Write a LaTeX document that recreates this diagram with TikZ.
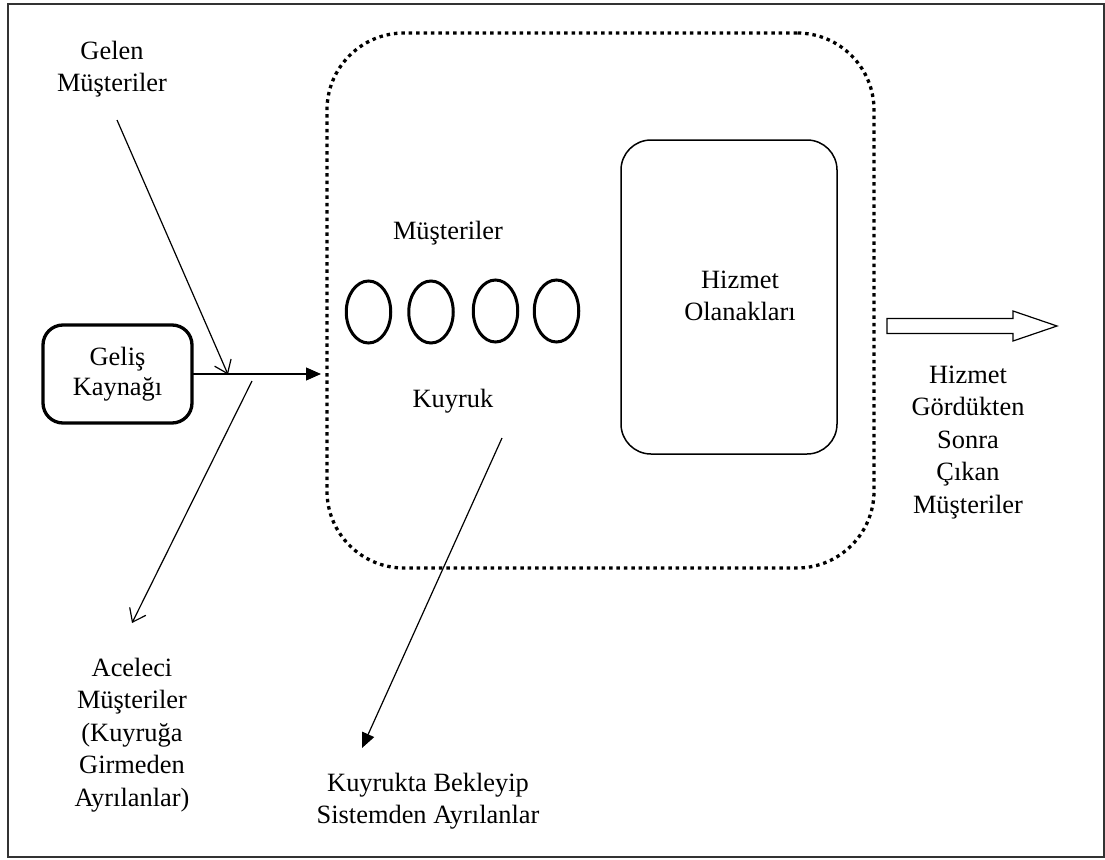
\documentclass[tikz,border=0pt]{standalone}
\usepackage{fontspec}
\setmainfont{Liberation Serif}
\usetikzlibrary{arrows.meta,calc,shapes.geometric}
\begin{document}
\begin{tikzpicture}[x=1pt,y=-1pt,
  every node/.style={font=\fontsize{26.4}{32.5}\selectfont, inner sep=0pt, outer sep=0pt, align=center},
  label text/.style={anchor=north},
  thin line/.style={line width=1.2pt},
  fillarrow/.style={thin line, -{Triangle[length=15pt,width=13pt]}},
  openarrow/.style={thin line, -{Straight Barb[length=12pt,width=18pt,line width=1.2pt]}},
  systembox/.style={draw, line width=3.3pt, dash pattern=on 3.5pt off 3.9pt,
    rounded corners=77pt, minimum width=547pt, minimum height=535pt},
  sourcebox/.style={draw, line width=3.3pt, rounded corners=20pt,
    minimum width=149pt, minimum height=98pt},
  servicebox/.style={draw, line width=1.5pt, rounded corners=30pt,
    minimum width=216pt, minimum height=314pt},
  customer/.style={draw, ellipse, line width=3pt, minimum width=44.5pt, minimum height=62pt},
]
\useasboundingbox (0,0) rectangle (1105,859);
% frame
\draw[line width=1.5pt, black!80] (8,4) rectangle (1104.2,857);

% queueing system boundary and its parts
\node[systembox] (sys) at (600.5,300.5) {};
\node[servicebox] (srv) at (729,297) {};
\node[label text] (srvtxt) at (740,271) {Hizmet\\Olanakları};

\node[label text] (mus) at (448,221) {Müşteriler};
\node[customer] (c1) at (368.5,312) {};
\node[customer] (c2) at (431,312) {};
\node[customer] (c3) at (495.5,311) {};
\node[customer] (c4) at (556.5,311) {};
\node[label text] (kuy) at (453,389) {Kuyruk};

% arrival source
\node[sourcebox] (src) at (117.5,374) {\raisebox{-4pt}{\shortstack{Geliş\\[3pt]Kaynağı}}};
\node[label text] (gelen) at (112,41) {Gelen\\Müşteriler};
\node[label text] (acel) at (132,658) {Aceleci\\Müşteriler\\(Kuyruğa\\Girmeden\\Ayrılanlar)};
\node[label text] (kb) at (428,773) {Kuyrukta Bekleyip\\Sistemden Ayrılanlar};
\node[label text] (out) at (968,366) {Hizmet\\Gördükten\\Sonra\\Çıkan\\Müşteriler};

% flows
\draw[fillarrow, shorten >=6pt] (src.east) -- (src.east -| sys.west);
\coordinate (join) at (228,374.5);
\coordinate (gin) at (117,120);
\draw[openarrow] (gin) -- (join);
\coordinate (balk) at (252,381);
\coordinate (aceltip) at (132,623);
\draw[openarrow] (balk) -- (aceltip);
\coordinate (qout) at (502,438);
\coordinate (qtip) at (362,748);
\draw[fillarrow] (qout) -- (qtip);

% departures: hollow block arrow
\draw[thin line] (887,318.5) -- (1013,318.5) -- (1013,311) -- (1057,326)
  -- (1013,341) -- (1013,333.5) -- (887,333.5) -- cycle;
\end{tikzpicture}
\end{document}
